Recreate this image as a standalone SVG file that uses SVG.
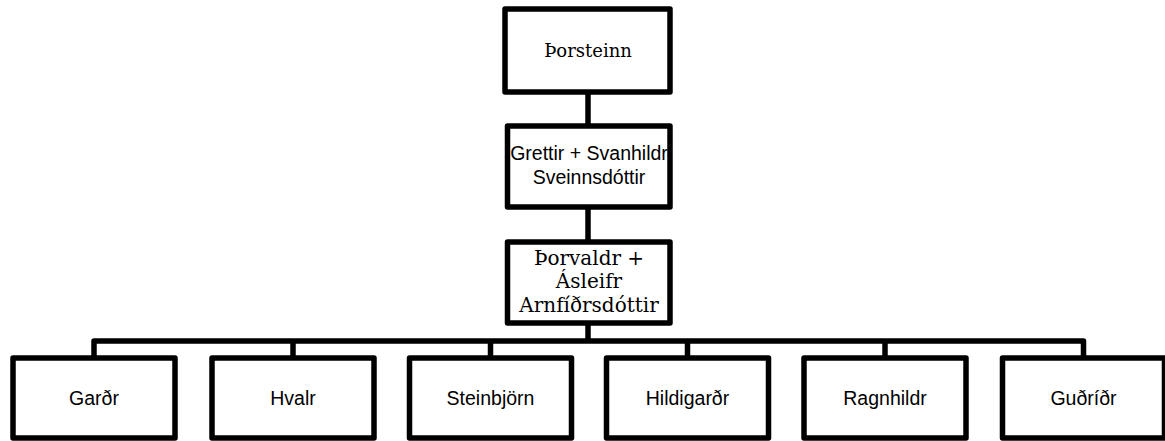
<svg xmlns="http://www.w3.org/2000/svg" width="1165" height="441" viewBox="0 0 1165 441">
<style>
.box{fill:#fff;stroke:#000;stroke-width:5.5;stroke-linejoin:round}
.conn{fill:none;stroke:#000;stroke-width:5.5;stroke-linejoin:round}
.sans{font-family:"Liberation Sans",Arial,sans-serif;font-size:19.5px;fill:#000;text-anchor:middle}
.serif{font-family:"DejaVu Serif",serif;fill:#000;text-anchor:middle}
</style>
<rect width="1165" height="441" fill="#fff"/>
<g id="connectors">
<line class="conn" x1="588" y1="92" x2="588" y2="126"/>
<line class="conn" x1="588" y1="207" x2="588" y2="242"/>
<line class="conn" x1="588" y1="323" x2="588" y2="341"/>
<path class="conn" d="M94,358 V341 H1083.5 V358"/>
<line class="conn" x1="293" y1="341" x2="293" y2="358"/>
<line class="conn" x1="490.5" y1="341" x2="490.5" y2="358"/>
<line class="conn" x1="687.5" y1="341" x2="687.5" y2="358"/>
<line class="conn" x1="885" y1="341" x2="885" y2="358"/>
</g>
<g id="n-thorsteinn">
<rect class="box" x="505" y="9" width="165" height="83"/>
<text class="serif" x="588" y="57" font-size="18">Þorsteinn</text>
</g>
<g id="n-grettir">
<rect class="box" x="507.5" y="126" width="162.5" height="81"/>
<text class="sans" x="589" y="160" font-size="20">Grettir + Svanhildr</text>
<text class="sans" x="589" y="184" font-size="20">Sveinnsdóttir</text>
</g>
<g id="n-thorvaldr">
<rect class="box" x="507.5" y="242" width="162.5" height="81"/>
<text class="serif" x="589" y="265" font-size="20">Þorvaldr +</text>
<text class="serif" x="589" y="288" font-size="20">Ásleifr</text>
<text class="serif" x="589" y="312" font-size="20">Arnfíðrsdóttir</text>
</g>
<g id="n-gardr">
<rect class="box" x="13" y="358" width="162" height="80"/>
<text class="sans" x="94" y="405">Garðr</text>
</g>
<g id="n-hvalr">
<rect class="box" x="212" y="358" width="162" height="80"/>
<text class="sans" x="293" y="405">Hvalr</text>
</g>
<g id="n-steinbjorn">
<rect class="box" x="409.5" y="358" width="162" height="80"/>
<text class="sans" x="490.5" y="405">Steinbjörn</text>
</g>
<g id="n-hildigardr">
<rect class="box" x="606.5" y="358" width="162" height="80"/>
<text class="sans" x="687.5" y="405">Hildigarðr</text>
</g>
<g id="n-ragnhildr">
<rect class="box" x="804" y="358" width="162" height="80"/>
<text class="sans" x="885" y="405">Ragnhildr</text>
</g>
<g id="n-gudridr">
<rect class="box" x="1002.5" y="358" width="162" height="80"/>
<text class="sans" x="1083.5" y="405">Guðríðr</text>
</g>
</svg>
